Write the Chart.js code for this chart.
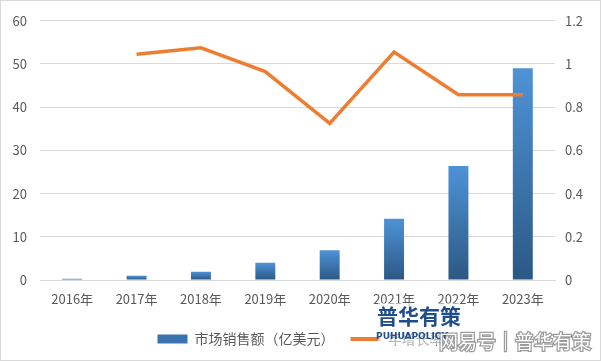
<!DOCTYPE html>
<html>
<head>
<meta charset="utf-8">
<script src="https://cdn.jsdelivr.net/npm/chart.js@4"></script>
<style>
  html, body { margin: 0; padding: 0; background: #fff; }
  #wrap { width: 601px; height: 361px; }
</style>
</head>
<body>
<div id="wrap"><canvas id="myCanvas" width="601" height="361"></canvas></div>
<script>
const labels = ['2016年', '2017年', '2018年', '2019年', '2020年', '2021年', '2022年', '2023年'];
const salesData = [0.3, 1.0, 1.9, 4.0, 6.9, 14.2, 26.4, 49.0];
const growthData = [null, 1.045, 1.075, 0.965, 0.725, 1.055, 0.858, 0.858];

const FONT = '"Noto Sans CJK SC", "DejaVu Sans", sans-serif';

function barGradient(context) {
    const chart = context.chart;
    if (!chart.chartArea || context.parsed === undefined) return '#3b78b8';
    const y = chart.scales.y;
    const top = y.getPixelForValue(context.parsed.y);
    const bottom = y.getPixelForValue(0);
    if (!isFinite(top) || bottom - top < 1) return '#2f6399';
    const g = chart.ctx.createLinearGradient(0, top, 0, bottom);
    g.addColorStop(0, '#4e93d7');
    g.addColorStop(1, '#2b5884');
    return g;
}

const decor = {
    id: 'decor',
    afterDraw(chart) {
        const c = chart.ctx;
        c.save();
        c.strokeStyle = '#d9d9d9';
        c.lineWidth = 1;
        c.strokeRect(0.5, 0.5, chart.width - 1, chart.height - 1);
        // watermark
        c.textAlign = 'center';
        c.textBaseline = 'middle';
        c.fillStyle = 'rgba(255,255,255,0.55)';
        c.fillRect(378, 303, 82, 42);
        c.fillStyle = '#1f4e8a';
        c.font = 'bold 21px ' + FONT;
        c.fillText('普华有策', 419, 316);
        c.font = 'bold 9px "DejaVu Sans", sans-serif';
        c.fillText('PUHUAPOLICY', 412, 337);
        c.font = '19px ' + FONT;
        c.lineWidth = 2.5;
        c.strokeStyle = 'rgba(90,90,90,0.6)';
        c.strokeText('网易号｜普华有策', 515, 342);
        c.fillStyle = '#ffffff';
        c.fillText('网易号｜普华有策', 515, 342);
        c.restore();
    }
};

const ctx = document.getElementById('myCanvas').getContext('2d');

const myChart = new Chart(ctx, {
    data: {
        labels: labels,
        datasets: [
            {
                type: 'line',
                label: '年增长率',
                data: growthData,
                yAxisID: 'y1',
                borderColor: '#ed7d31',
                backgroundColor: '#ed7d31',
                borderWidth: 3.5,
                pointRadius: 0,
                pointStyle: 'line',
                tension: 0,
                fill: false,
                order: 0
            },
            {
                type: 'bar',
                label: '市场销售额（亿美元）',
                data: salesData,
                yAxisID: 'y',
                backgroundColor: barGradient,
                pointStyle: 'rect',
                categoryPercentage: 1,
                barPercentage: 0.31,
                order: 1
            }
        ]
    },
    options: {
        responsive: false,
        animation: false,
        layout: { padding: { left: 0, right: 0, top: 18, bottom: 5 } },
        plugins: {
            tooltip: { enabled: false },
            legend: {
                position: 'bottom',
                reverse: true,
                labels: {
                    font: { family: FONT, size: 14 },
                    color: '#595959',
                    usePointStyle: true,
                    pointStyleWidth: 30,
                    boxHeight: 9,
                    padding: 16,
                    generateLabels(chart) {
                        const items = Chart.defaults.plugins.legend.labels.generateLabels(chart);
                        items.forEach(it => {
                            if (it.datasetIndex === 1) {
                                it.fillStyle = '#3a74b0';
                                it.strokeStyle = '#3a74b0';
                                it.lineWidth = 0;
                            } else {
                                it.lineWidth = 4;
                            }
                        });
                        return items;
                    }
                }
            }
        },
        scales: {
            x: {
                offset: true,
                grid: { display: false, drawTicks: false },
                border: { display: true, color: '#d9d9d9' },
                ticks: { font: { family: FONT, size: 13 }, color: '#595959', padding: 11, maxRotation: 0 },
                afterFit(scale) { scale.height = 36; }
            },
            y: {
                position: 'left',
                min: 0,
                max: 60,
                ticks: { stepSize: 10, font: { family: FONT, size: 13 }, color: '#595959', padding: 13 },
                grid: { color: '#d9d9d9', drawTicks: false },
                border: { display: false },
                afterFit(scale) { scale.width = 40; }
            },
            y1: {
                position: 'right',
                min: 0,
                max: 1.2,
                ticks: {
                    stepSize: 0.2,
                    font: { family: FONT, size: 13 },
                    color: '#595959',
                    padding: 10,
                    callback: v => String(Number(v.toFixed(1)))
                },
                grid: { display: false, drawTicks: false },
                border: { display: false },
                afterFit(scale) { scale.width = 46; }
            }
        }
    },
    plugins: [decor]
});
</script>
</body>
</html>
